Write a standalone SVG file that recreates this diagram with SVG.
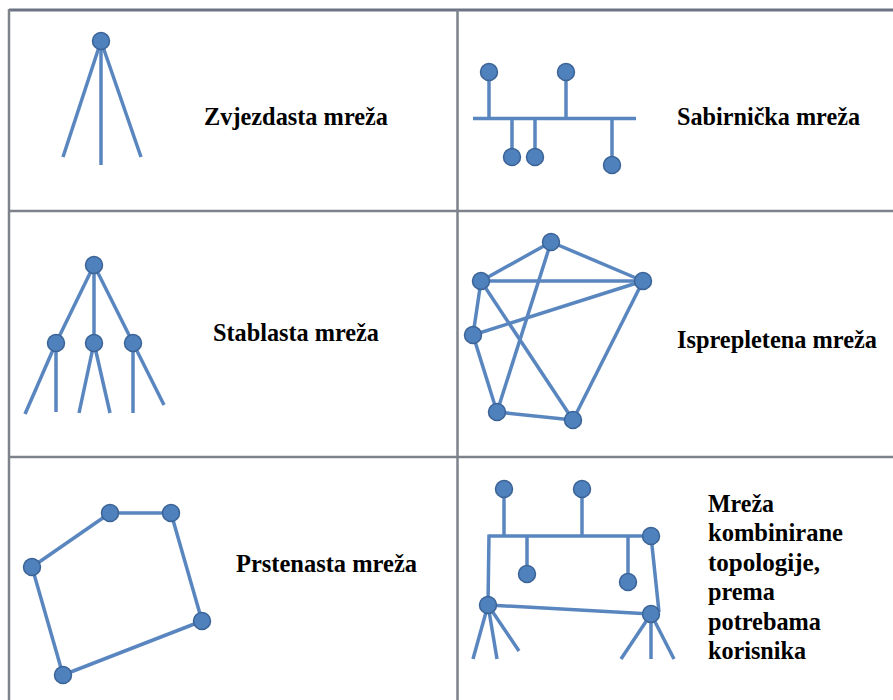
<svg xmlns="http://www.w3.org/2000/svg" width="893" height="700" viewBox="0 0 893 700">
<style>
.grid{stroke:#7d828b;stroke-width:2.5;fill:none}
.ln{stroke:#5a86bf;stroke-width:3.5;fill:none;stroke-linecap:butt}
.nd{fill:#4f81bd;stroke:#3b6396;stroke-width:1.5}
.lbl{font-family:"Liberation Serif","Times New Roman",serif;font-weight:bold;font-size:26px;fill:#000}
</style>
<rect width="893" height="700" fill="#fff"/>
<g id="grid">
<line class="grid" x1="9" y1="10" x2="893" y2="10" style="stroke:#6c7483;stroke-width:3"/>
<line class="grid" x1="9" y1="211" x2="893" y2="211"/>
<line class="grid" x1="9" y1="457" x2="893" y2="457"/>
<line class="grid" x1="9" y1="9" x2="9" y2="700"/>
<line class="grid" x1="457.5" y1="10" x2="457.5" y2="700"/>
</g>
<g id="connectors">
<line class="ln" x1="101" y1="41" x2="63" y2="157"/>
<line class="ln" x1="101" y1="41" x2="101" y2="165"/>
<line class="ln" x1="101" y1="41" x2="141" y2="157"/>
<line class="ln" x1="473" y1="118.5" x2="636" y2="118.5"/>
<line class="ln" x1="489" y1="72" x2="489" y2="118.5"/>
<line class="ln" x1="566" y1="72" x2="566" y2="118.5"/>
<line class="ln" x1="512" y1="118.5" x2="512" y2="157"/>
<line class="ln" x1="535" y1="118.5" x2="535" y2="157"/>
<line class="ln" x1="612" y1="118.5" x2="612" y2="165"/>
<line class="ln" x1="94" y1="265" x2="56" y2="343"/>
<line class="ln" x1="94" y1="265" x2="94" y2="343"/>
<line class="ln" x1="94" y1="265" x2="133" y2="343"/>
<line class="ln" x1="56" y1="343" x2="25" y2="414"/>
<line class="ln" x1="56" y1="343" x2="56" y2="412"/>
<line class="ln" x1="94" y1="343" x2="79" y2="413"/>
<line class="ln" x1="94" y1="343" x2="110" y2="413"/>
<line class="ln" x1="133" y1="343" x2="133" y2="413"/>
<line class="ln" x1="133" y1="343" x2="164" y2="405"/>
<line class="ln" x1="551" y1="242" x2="481" y2="281"/>
<line class="ln" x1="551" y1="242" x2="643" y2="281"/>
<line class="ln" x1="551" y1="242" x2="497" y2="412"/>
<line class="ln" x1="481" y1="281" x2="643" y2="281"/>
<line class="ln" x1="481" y1="281" x2="473" y2="335"/>
<line class="ln" x1="481" y1="281" x2="573" y2="420"/>
<line class="ln" x1="473" y1="335" x2="643" y2="281"/>
<line class="ln" x1="473" y1="335" x2="497" y2="412"/>
<line class="ln" x1="497" y1="412" x2="573" y2="420"/>
<line class="ln" x1="573" y1="420" x2="643" y2="281"/>
<line class="ln" x1="110" y1="513" x2="171" y2="513"/>
<line class="ln" x1="171" y1="513" x2="202" y2="621"/>
<line class="ln" x1="202" y1="621" x2="63" y2="675"/>
<line class="ln" x1="63" y1="675" x2="32" y2="567"/>
<line class="ln" x1="32" y1="567" x2="110" y2="513"/>
<line class="ln" x1="489" y1="536" x2="651" y2="536"/>
<line class="ln" x1="504" y1="489" x2="504" y2="536"/>
<line class="ln" x1="582" y1="489" x2="582" y2="536"/>
<line class="ln" x1="527" y1="536" x2="527" y2="574"/>
<line class="ln" x1="628" y1="536" x2="628" y2="582"/>
<line class="ln" x1="489" y1="534.5" x2="488" y2="605"/>
<line class="ln" x1="651" y1="536" x2="659" y2="612"/>
<line class="ln" x1="488" y1="605" x2="651" y2="614"/>
<line class="ln" x1="488" y1="605" x2="473" y2="659"/>
<line class="ln" x1="488" y1="605" x2="497" y2="659"/>
<line class="ln" x1="488" y1="605" x2="519" y2="651"/>
<line class="ln" x1="651" y1="614" x2="621" y2="659"/>
<line class="ln" x1="651" y1="614" x2="651" y2="659"/>
<line class="ln" x1="651" y1="614" x2="674" y2="659"/>
</g>
<g id="star">
<circle class="nd" cx="101" cy="41" r="8.5"/>
<text class="lbl" x="204" y="125" textLength="184" lengthAdjust="spacingAndGlyphs">Zvjezdasta mreža</text>
</g>
<g id="bus">
<circle class="nd" cx="489" cy="72" r="8.5"/>
<circle class="nd" cx="566" cy="72" r="8.5"/>
<circle class="nd" cx="512" cy="157" r="8.5"/>
<circle class="nd" cx="535" cy="157" r="8.5"/>
<circle class="nd" cx="612" cy="165" r="8.5"/>
<text class="lbl" x="677" y="125" textLength="183" lengthAdjust="spacingAndGlyphs">Sabirnička mreža</text>
</g>
<g id="tree">
<circle class="nd" cx="94" cy="265" r="8.5"/>
<circle class="nd" cx="56" cy="343" r="8.5"/>
<circle class="nd" cx="94" cy="343" r="8.5"/>
<circle class="nd" cx="133" cy="343" r="8.5"/>
<text class="lbl" x="213" y="341" textLength="166" lengthAdjust="spacingAndGlyphs">Stablasta mreža</text>
</g>
<g id="mesh">
<circle class="nd" cx="551" cy="242" r="8.5"/>
<circle class="nd" cx="481" cy="281" r="8.5"/>
<circle class="nd" cx="643" cy="281" r="8.5"/>
<circle class="nd" cx="473" cy="335" r="8.5"/>
<circle class="nd" cx="497" cy="412" r="8.5"/>
<circle class="nd" cx="573" cy="420" r="8.5"/>
<text class="lbl" x="677" y="348" textLength="200" lengthAdjust="spacingAndGlyphs">Isprepletena mreža</text>
</g>
<g id="ring">
<circle class="nd" cx="110" cy="513" r="8.5"/>
<circle class="nd" cx="171" cy="513" r="8.5"/>
<circle class="nd" cx="202" cy="621" r="8.5"/>
<circle class="nd" cx="63" cy="675" r="8.5"/>
<circle class="nd" cx="32" cy="567" r="8.5"/>
<text class="lbl" x="236" y="572" textLength="181" lengthAdjust="spacingAndGlyphs">Prstenasta mreža</text>
</g>
<g id="combined">
<circle class="nd" cx="504" cy="489" r="8.5"/>
<circle class="nd" cx="582" cy="489" r="8.5"/>
<circle class="nd" cx="651" cy="536" r="8.5"/>
<circle class="nd" cx="527" cy="574" r="8.5"/>
<circle class="nd" cx="628" cy="582" r="8.5"/>
<circle class="nd" cx="488" cy="605" r="8.5"/>
<circle class="nd" cx="651" cy="614" r="8.5"/>
<text class="lbl" x="708" y="512" textLength="66" lengthAdjust="spacingAndGlyphs">Mreža</text>
<text class="lbl" x="708" y="541" textLength="135" lengthAdjust="spacingAndGlyphs">kombinirane</text>
<text class="lbl" x="708" y="571" textLength="112" lengthAdjust="spacingAndGlyphs">topologije,</text>
<text class="lbl" x="708" y="600" textLength="67" lengthAdjust="spacingAndGlyphs">prema</text>
<text class="lbl" x="708" y="630" textLength="113" lengthAdjust="spacingAndGlyphs">potrebama</text>
<text class="lbl" x="708" y="659" textLength="98" lengthAdjust="spacingAndGlyphs">korisnika</text>
</g>
</svg>
